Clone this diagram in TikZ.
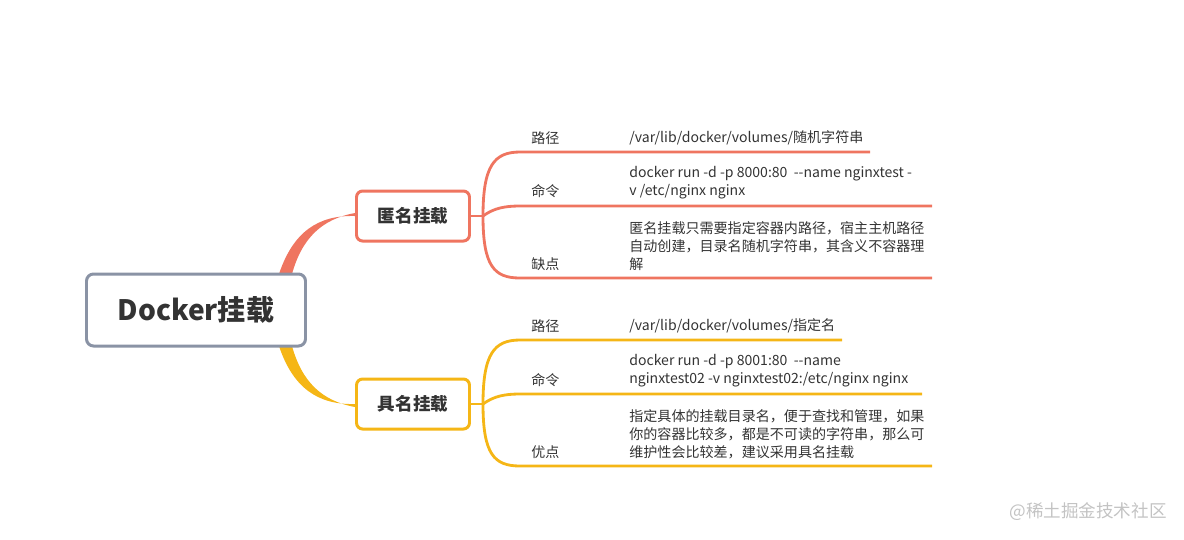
\documentclass[tikz,border=0pt]{standalone}
\usepackage{fontspec}
\setmainfont{Noto Sans CJK SC}
\usetikzlibrary{backgrounds}
\definecolor{rootc}{RGB}{138,147,165}
\definecolor{redc}{RGB}{239,117,96}
\definecolor{yelc}{RGB}{245,182,22}
\definecolor{txtc}{RGB}{51,51,51}
\definecolor{markc}{RGB}{195,195,195}

\begin{document}
\begin{tikzpicture}[x=0.02cm, y=-0.02cm,
  rootbox/.style={draw=rootc, line width=1.7pt, rounded corners=4pt, fill=white, minimum width=219*0.02cm, minimum height=72*0.02cm, font=\fontsize{16}{18}\selectfont\bfseries, text=txtc},
  subbox/.style={draw=#1, line width=1.7pt, rounded corners=3.5pt, fill=white, minimum width=113*0.02cm, minimum height=50*0.02cm, font=\fontsize{10}{12}\selectfont\bfseries, text=txtc},
  leafline/.style={draw=#1, line width=1.6pt},
  tag/.style={anchor=west, inner sep=0pt, font=\fontsize{8}{10.2}\selectfont, text=txtc},
  info/.style={anchor=west, inner sep=0pt, align=left, font=\fontsize{8}{10.2}\selectfont, text=txtc}]
  \useasboundingbox (0,0) rectangle (1184,539);

  % main node and its two branches
  \node[rootbox] (root) at (196,310) {Docker挂载};
  \node[subbox=redc] (anon) at (413,216) {匿名挂载};
  \node[subbox=yelc] (named) at (413,404) {具名挂载};

  \begin{scope}[on background layer]
    \fill[redc] (279,274) .. controls (293,232) and (318,215) .. (anon.west) -- ([yshift=0.06cm]anon.west) .. controls (322,219) and (302,238) .. (292,274) -- cycle;
    \fill[yelc] (279,346) .. controls (293,388) and (318,405) .. (named.west) -- ([yshift=-0.06cm]named.west) .. controls (322,401) and (302,382) .. (292,346) -- cycle;
  \end{scope}

  % anonymous mount
  \coordinate (aj) at (483,216);
  \coordinate (a1s) at (520,152); \coordinate (a1e) at (870,152);
  \coordinate (a2s) at (520,206); \coordinate (a2e) at (932,206);
  \coordinate (a3s) at (520,278); \coordinate (a3e) at (932,278);
  \draw[leafline=redc] (anon.east) -- (aj);
  \draw[leafline=redc] (aj) .. controls (483,166) and (494,152) .. (a1s) -- (a1e);
  \draw[leafline=redc] (aj) .. controls (494,208) and (505,206) .. (a2s) -- (a2e);
  \draw[leafline=redc] (aj) .. controls (483,266) and (494,278) .. (a3s) -- (a3e);

  \node[tag] (a1t) at (531,138) {路径};
  \node[tag] (a2t) at (531,191) {命令};
  \node[tag] (a3t) at (531,264) {缺点};
  \node[info] (a1i) at (629,138) {/var/lib/docker/volumes/随机字符串};
  \node[info] (a2i) at (629,182.5) {docker run -d -p 8000:80\ \ -{}-name nginxtest -\\v /etc/nginx nginx};
  \node[info] (a3i) at (629,246) {匿名挂载只需要指定容器内路径，宿主主机路径\\自动创建，目录名随机字符串，其含义不容器理\\解};

  % named mount
  \coordinate (nj) at (483,404);
  \coordinate (n1s) at (520,340); \coordinate (n1e) at (842,340);
  \coordinate (n2s) at (520,394); \coordinate (n2e) at (922,394);
  \coordinate (n3s) at (520,466); \coordinate (n3e) at (932,466);
  \draw[leafline=yelc] (named.east) -- (nj);
  \draw[leafline=yelc] (nj) .. controls (483,354) and (494,340) .. (n1s) -- (n1e);
  \draw[leafline=yelc] (nj) .. controls (494,396) and (505,394) .. (n2s) -- (n2e);
  \draw[leafline=yelc] (nj) .. controls (483,454) and (494,466) .. (n3s) -- (n3e);

  \node[tag] (n1t) at (531,326) {路径};
  \node[tag] (n2t) at (531,380) {命令};
  \node[tag] (n3t) at (531,452) {优点};
  \node[info] (n1i) at (629,326) {/var/lib/docker/volumes/指定名};
  \node[info] (n2i) at (629,371) {docker run -d -p 8001:80\ \ -{}-name\\nginxtest02 -v nginxtest02:/etc/nginx nginx};
  \node[info] (n3i) at (629,434) {指定具体的挂载目录名，便于查找和管理，如果\\你的容器比较多，都是不可读的字符串，那么可\\维护性会比较差，建议采用具名挂载};

  \node[anchor=east, inner sep=0pt, font=\fontsize{10}{12}\selectfont, text=markc] (mark) at (1167,512) {@稀土掘金技术社区};
\end{tikzpicture}
\end{document}
